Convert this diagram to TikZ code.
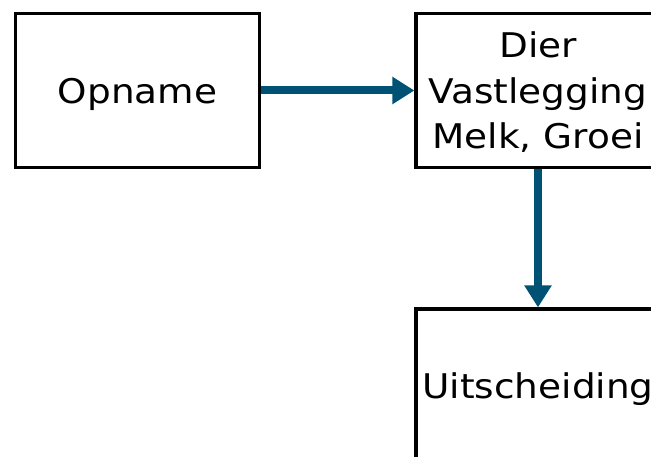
\documentclass[tikz,border=0pt]{standalone}
\usepackage{fontspec}
\setmainfont[FakeStretch=1.1]{DejaVu Sans}
\usetikzlibrary{arrows.meta}
\definecolor{flowblue}{RGB}{0,82,116}
\begin{document}
\begin{tikzpicture}[x=1pt,y=-1pt,
  box/.style={draw=black, line width=3.2pt, minimum width=244pt, minimum height=154pt,
    inner sep=0pt, align=center, text depth=0pt,
    font=\fontsize{34}{45.5}\selectfont, fill=white},
  flow/.style={draw=flowblue, line width=8pt,
    -{Triangle[width=26pt,length=22pt]}}]
  \useasboundingbox (0,0) rectangle (651,457);
  \node[box] (op) at (137.5,90.5) {Opname};
  \node[box] (dier) at (538,90.5) {Dier\\Vastlegging\\Melk, Groei};
  \node[box] (uit) at (538,386) {Uitscheiding};
  \draw[flow] (op.east) -- (dier.west);
  \draw[flow] (dier.south) -- (uit.north);
\end{tikzpicture}
\end{document}
